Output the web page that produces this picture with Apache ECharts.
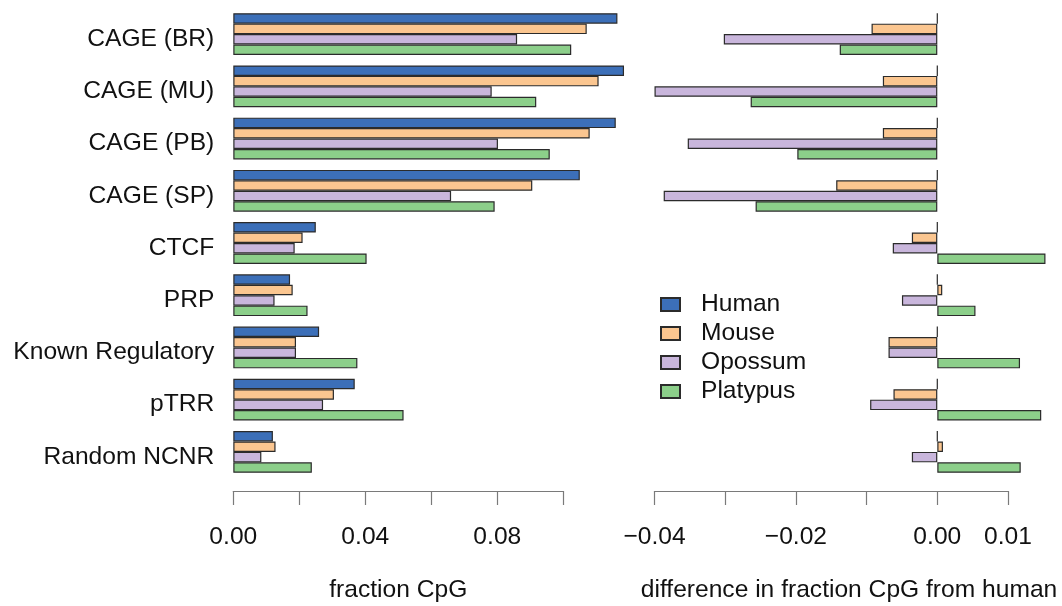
<!DOCTYPE html>
<html>
<head>
<meta charset="utf-8">
<title>fraction CpG</title>
<script src="https://cdn.jsdelivr.net/npm/echarts@6/dist/echarts.min.js"></script>
<style>
  html, body { margin: 0; padding: 0; background: #ffffff; }
  #chart { width: 1062px; height: 606px; }
</style>
</head>
<body>
<div id="chart"></div>
<script>
// Region classes, top to bottom
const categories = ['CAGE (BR)', 'CAGE (MU)', 'CAGE (PB)', 'CAGE (SP)', 'CTCF', 'PRP', 'Known Regulatory', 'pTRR', 'Random NCNR'];
const speciesNames = ['Human', 'Mouse', 'Opossum', 'Platypus'];

// Fraction CpG per species
const humanCpG    = [0.1164, 0.1184, 0.1159, 0.1050, 0.0250, 0.0172, 0.0260, 0.0368, 0.0120];
const mouseCpG    = [0.1071, 0.1107, 0.1080, 0.0906, 0.0210, 0.0180, 0.0190, 0.0305, 0.0128];
const opossumCpG  = [0.0860, 0.0783, 0.0802, 0.0660, 0.0186, 0.0125, 0.0190, 0.0272, 0.0085];
const platypusCpG = [0.1024, 0.0918, 0.0959, 0.0792, 0.0404, 0.0225, 0.0376, 0.0516, 0.0238];

// Difference in fraction CpG from human
const humanDiff    = [0, 0, 0, 0, 0, 0, 0, 0, 0];
const mouseDiff    = [-0.0093, -0.0077, -0.0077, -0.0143, -0.0036, 0.0007, -0.0069, -0.0062, 0.0008];
const opossumDiff  = [-0.0302, -0.0400, -0.0353, -0.0387, -0.0063, -0.0050, -0.0069, -0.0095, -0.0036];
const platypusDiff = [-0.0138, -0.0264, -0.0198, -0.0257, 0.0153, 0.0054, 0.0117, 0.0147, 0.0118];

// Tick labels (one per tick; blanks are unlabelled ticks)
const cpgTickLabels  = ['0.00', '', '0.04', '', '0.08', ''];
const diffTickLabels = ['\u22120.04', '', '\u22120.02', '', '0.00', '0.01'];

const cpgTitle = 'fraction CpG';
const diffTitle = 'difference in fraction CpG from human';

const colors = ['#3c6fb8', '#fbc690', '#c9b6dc', '#8ccf8a'];
const FONT = "'Liberation Sans', Arial, Helvetica, sans-serif";
const FS = 24.6;

// Panel geometry
const plotTop = 8, plotHeight = 470;
const labelDrop = 5;                                  // category names sit a little below group centres
const cpgLeft = 233.3, cpgPxPerUnit = 3300;           // left panel scale
const diffZero = 937.3, diffPxPerUnit = 7070;         // right panel scale
const cpgRange = [0, 0.12];
const diffRange = [-0.042, 0.017];
const cpgAxisRange = [0, 0.10];
const diffAxisRange = [-0.04, 0.01];
const axisY = 491;

function leftPx(v) { return cpgLeft + (v - cpgRange[0]) * cpgPxPerUnit; }
function rightPx(v) { return diffZero + v * diffPxPerUnit; }

const chart = echarts.init(document.getElementById('chart'), null, { renderer: 'canvas' });

const grids = [
  { left: leftPx(cpgRange[0]), width: (cpgRange[1] - cpgRange[0]) * cpgPxPerUnit, top: plotTop, height: plotHeight },
  { left: rightPx(diffRange[0]), width: (diffRange[1] - diffRange[0]) * diffPxPerUnit, top: plotTop, height: plotHeight },
  { left: leftPx(cpgAxisRange[0]), width: (cpgAxisRange[1] - cpgAxisRange[0]) * cpgPxPerUnit, top: plotTop, height: axisY - plotTop },
  { left: rightPx(diffAxisRange[0]), width: (diffAxisRange[1] - diffAxisRange[0]) * diffPxPerUnit, top: plotTop, height: axisY - plotTop },
  { left: leftPx(cpgRange[0]), width: (cpgRange[1] - cpgRange[0]) * cpgPxPerUnit, top: plotTop + labelDrop, height: plotHeight }
];

const axisLineStyle = { color: '#7a7a7a', width: 1.2 };

function scaleAxis(gridIndex, range, interval, labels) {
  return {
    type: 'value', gridIndex: gridIndex,
    min: range[0], max: range[1], interval: interval,
    axisLine: { show: true, lineStyle: axisLineStyle },
    axisTick: { show: true, length: 14, lineStyle: axisLineStyle },
    splitLine: { show: false },
    axisLabel: {
      show: true, margin: 34, color: '#111', fontSize: FS, fontFamily: FONT,
      showMinLabel: true, showMaxLabel: true,
      formatter: function (v, i) { return labels[i] !== undefined ? labels[i] : ''; }
    }
  };
}

const xAxes = [
  { type: 'value', gridIndex: 0, min: cpgRange[0], max: cpgRange[1], show: false },
  { type: 'value', gridIndex: 1, min: diffRange[0], max: diffRange[1], show: false },
  scaleAxis(2, cpgAxisRange, 0.02, cpgTickLabels),
  scaleAxis(3, diffAxisRange, 0.01, diffTickLabels),
  { type: 'value', gridIndex: 4, min: 0, max: 1, show: false }
];

const yAxes = [
  { type: 'category', gridIndex: 0, data: categories, inverse: true, show: false },
  { type: 'category', gridIndex: 1, data: categories, inverse: true, show: false },
  { type: 'value', gridIndex: 2, min: 0, max: 1, show: false },
  { type: 'value', gridIndex: 3, min: 0, max: 1, show: false },
  {
    type: 'category', gridIndex: 4, data: categories, inverse: true,
    axisLine: { show: false }, axisTick: { show: false }, splitLine: { show: false },
    axisLabel: { margin: 19, color: '#111', fontSize: FS, fontFamily: FONT }
  }
];

const cpgSeries = [humanCpG, mouseCpG, opossumCpG, platypusCpG];
const diffSeries = [humanDiff, mouseDiff, opossumDiff, platypusDiff];

const series = [];
function addBars(values, idx, axisIndex) {
  series.push({
    type: 'bar', name: speciesNames[idx], data: values,
    xAxisIndex: axisIndex, yAxisIndex: axisIndex,
    barGap: '0%', barCategoryGap: '20%',
    itemStyle: { color: colors[idx], borderColor: '#2b2b2b', borderWidth: 1.2 },
    emphasis: { disabled: true },
    animation: false
  });
}
cpgSeries.forEach(function (v, i) { addBars(v, i, 0); });
diffSeries.forEach(function (v, i) { addBars(v, i, 1); });

chart.setOption({
  backgroundColor: '#ffffff',
  animation: false,
  grid: grids,
  xAxis: xAxes,
  yAxis: yAxes,
  series: series,
  legend: {
    data: speciesNames,
    orient: 'vertical',
    left: 660, top: 292,
    padding: 0,
    itemWidth: 19, itemHeight: 13, itemGap: 4,
    icon: 'rect',
    selectedMode: false,
    textStyle: { fontSize: FS, fontFamily: FONT, color: '#111', padding: [0, 0, 0, 16], lineHeight: 24 }
  },
  graphic: [
    { type: 'text', x: (leftPx(cpgAxisRange[0]) + leftPx(cpgAxisRange[1])) / 2, y: 590,
      style: { text: cpgTitle, font: FS + 'px ' + FONT, fill: '#111', textAlign: 'center', textVerticalAlign: 'middle' } },
    { type: 'text', x: 849, y: 590,
      style: { text: diffTitle, font: FS + 'px ' + FONT, fill: '#111', textAlign: 'center', textVerticalAlign: 'middle' } }
  ]
});
</script>
</body>
</html>
